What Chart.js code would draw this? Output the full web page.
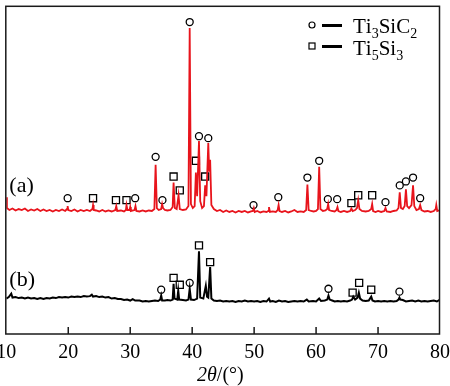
<!DOCTYPE html>
<html>
<head>
<meta charset="utf-8">
<script src="https://cdn.jsdelivr.net/npm/chart.js@4"></script>
<style>
  html, body { margin: 0; padding: 0; background: #fff; }
</style>
</head>
<body>
<canvas id="xrd" width="450" height="386"></canvas>
<script>
// 2theta (deg), intensity (arb. units)
const redPattern = [
  [10.0,139],[10.1,128],[10.5,126],[11.0,127.5],[11.5,125.5],[12.0,127],[12.5,126],[13.0,127.5],[13.5,125],[14.0,126.5],
  [14.5,125.5],[15.0,127],[15.5,125],[16.0,126.5],[16.5,125],[17.0,126],[17.5,124.5],[18.0,126],[18.5,125],[19.0,126.5],
  [19.5,125],[19.8,127],[19.9,130],[20.0,126],[20.5,125],[21.0,126.5],[21.5,124.5],[22.0,126],[22.5,125],[23.0,126],
  [23.5,125],[23.9,127],[24.0,131],[24.1,126],[24.5,125.5],[25.0,124.5],[25.5,126],[26.0,124.5],[26.5,125.5],[27.0,124.5],
  [27.6,126],[27.75,130],[27.9,125],[28.5,125.5],[29.0,124.5],[29.3,126],[29.4,131],[29.55,126],[29.9,126],[30.0,129],
  [30.1,125],[30.7,126],[30.85,130],[31.0,125],[31.5,124.5],[32.0,125.5],[32.5,124.5],[33.0,125.5],[33.5,125],[33.9,127],
  [34.1,172],[34.3,128],[34.6,126],[35.0,127],[35.15,132],[35.3,128],[35.6,126],[36.0,125.5],[36.5,126],[36.85,129],
  [37.0,154],[37.2,128],[37.5,127],[37.8,141],[38.0,127],[38.5,126],[39.0,126.5],[39.4,130],[39.6,311],[39.8,132],
  [40.1,128],[40.4,130],[40.6,164],[40.8,140],[41.1,196],[41.3,135],[41.6,128],[41.9,130],[42.1,151],[42.3,140],
  [42.6,194],[42.75,165],[42.9,177],[43.1,131],[43.5,127],[44.0,125],[44.5,126],[45.0,124],[45.5,125.5],[46.0,124],
  [46.5,125],[47.0,123.5],[47.5,125],[48.0,124],[48.5,125],[49.0,123.5],[49.5,124.5],[49.8,125],[49.95,128],[50.1,124],
  [50.5,125],[51.0,123.5],[51.5,124.5],[52.0,124],[52.3,125],[52.4,129],[52.55,124],[53.0,124.5],[53.5,124],[53.8,126],
  [53.95,131],[54.1,125],[54.5,124],[55.0,125],[55.5,123.5],[56.0,124.5],[56.5,126],[57.0,124],[57.5,124.5],[58.0,124],
  [58.4,126],[58.6,152],[58.8,126],[59.2,125],[59.6,124.5],[60.0,125],[60.3,127],[60.5,170],[60.7,127],[61.1,125],
  [61.5,125.5],[61.8,127],[61.95,132],[62.1,126],[62.5,125],[63.0,124.5],[63.3,126],[63.45,129],[63.6,125],[64.0,124],
  [64.5,125],[65.0,124],[65.5,125],[65.7,127.5],[65.9,125],[66.3,126],[66.6,128],[66.8,136],[67.0,127],[67.4,125],
  [68.0,124.5],[68.5,125],[68.9,127],[69.05,132],[69.2,125],[69.6,124],[70.0,125],[70.5,124],[71.0,125],[71.2,128],
  [71.4,124.5],[72.0,124],[72.5,125],[73.0,125.5],[73.3,128],[73.5,144],[73.7,128],[74.0,127],[74.3,130],[74.5,147],
  [74.7,130],[75.0,128],[75.4,131],[75.65,151],[75.85,130],[76.2,126],[76.6,127],[76.8,131],[77.0,126],[77.5,124.5],
  [78.0,125],[78.5,124],[79.0,125],[79.3,127],[79.4,131],[79.55,125],[80.0,126]
];

const blackPattern = [
  [10.0,36],[10.4,37.5],[10.8,41],[11.0,37],[11.5,37.5],[12.0,36.5],[12.5,37],[13.0,36],[13.5,37],[14.0,36],
  [14.5,36.5],[15.0,35.5],[15.5,36.5],[16.0,35.5],[16.5,36.5],[17.0,36],[17.5,37],[18.0,36.5],[18.5,37.5],[19.0,37],
  [19.5,37.5],[20.0,37],[20.5,38],[21.0,37.5],[21.5,38],[22.0,37.5],[22.5,38.5],[23.0,38],[23.5,38.5],[23.8,40],
  [24.0,38],[24.5,38.5],[25.0,37.5],[25.5,38],[26.0,37],[26.5,37.5],[27.0,36],[27.5,36.5],[28.0,35.5],[28.5,35.5],
  [29.0,34.5],[29.5,35],[30.0,34],[30.4,35.5],[30.8,34],[31.5,34],[32.0,33],[32.5,33.5],[33.0,33],[33.5,33.5],
  [34.0,34],[34.5,33.5],[34.85,35],[35.0,39],[35.15,34],[35.6,34],[36.0,34.5],[36.5,34],[36.85,35],[37.0,51],
  [37.15,36],[37.6,35],[37.75,44],[37.9,35],[38.5,34.5],[39.0,34],[39.4,35],[39.6,46],[39.8,35],[40.3,34.5],
  [40.8,36],[41.1,84],[41.3,37],[41.8,36],[42.2,49],[42.4,38],[42.6,37],[42.9,68],[43.1,36],[43.5,34],
  [44.0,33.5],[44.5,34],[45.0,33],[45.5,33.5],[46.0,33],[46.5,33.5],[47.0,32.5],[47.5,33.5],[48.0,33],[48.5,34],
  [49.0,33],[49.5,33.5],[50.0,33],[50.5,33.5],[51.0,32.5],[51.5,33.5],[52.0,33],[52.4,36],[52.6,33],[53.0,33.5],
  [53.5,32.5],[54.0,34],[54.5,33],[55.0,33.5],[55.5,32.5],[56.0,33],[56.5,33.5],[57.0,33],[57.5,33.5],[58.0,33],
  [58.5,35],[58.8,33],[59.5,33.5],[60.0,33],[60.5,36],[60.8,33.5],[61.4,34],[61.8,35],[62.0,39],[62.2,35],
  [62.6,34],[63.0,33],[63.5,33.5],[64.0,33],[64.5,33.5],[65.0,33],[65.5,34],[65.8,35],[66.0,38],[66.3,35],
  [66.7,37],[66.9,42],[67.1,36],[67.5,34],[68.0,33.5],[68.5,34],[68.9,38],[69.1,34],[69.5,33],[70.0,33.5],
  [70.5,33],[71.0,33.5],[71.5,33],[72.0,33.5],[72.5,33],[73.0,33.5],[73.3,35],[73.45,37],[73.6,35],[74.0,34.5],
  [74.5,33],[75.0,33.5],[75.5,34],[76.0,33],[76.5,34],[77.0,33],[77.5,33.5],[78.0,33],[78.5,33.5],[79.0,34],
  [79.5,33],[80.0,35]
];

// phase markers above the peaks: Ti3SiC2 (circle), Ti5Si3 (square)
const redCircles = [
  [19.9,138],[30.8,138],[34.1,180],[35.2,136],[39.6,317],[41.1,201],[42.6,199],[49.9,131],[53.9,139],
  [58.6,159],[60.5,176],[61.9,137],[63.4,137],[71.2,134],[73.5,151],[74.5,155],[75.65,159],[76.8,138]
];
const redSquares = [
  [24.0,138],[27.7,136],[29.4,136],[37.0,160],[38.0,146],[40.6,176],[42.1,160],[65.7,133],[66.8,141],[69.05,141]
];
const blackCircles = [[35.0,45],[39.6,52],[62.0,46],[73.45,43]];
const blackSquares = [[37.0,57],[38.0,50],[41.1,90],[42.9,73],[65.9,42],[66.95,52],[68.9,45]];

const xTicks = [10, 20, 30, 40, 50, 60, 70, 80];
const phaseNames = ['Ti_3SiC_2', 'Ti_5Si_3'];
const sampleNames = ['(a)', '(b)'];

const serif = "'Liberation Serif', 'Times New Roman', serif";
const toXY = arr => arr.map(p => ({ x: p[0], y: p[1] }));

// text with "_n" subscripts
function richText(ctx, s, x, y, size) {
  let i = 0;
  while (i < s.length) {
    if (s[i] === '_') {
      ctx.font = Math.round(size * 0.65) + 'px ' + serif;
      ctx.fillText(s[i + 1], x, y + size * 0.22);
      x += ctx.measureText(s[i + 1]).width;
      i += 2;
    } else {
      ctx.font = size + 'px ' + serif;
      ctx.fillText(s[i], x, y);
      x += ctx.measureText(s[i]).width;
      i++;
    }
  }
}

const decor = {
  id: 'decor',
  afterDraw(chart) {
    const { ctx, chartArea: a, scales: { x } } = chart;
    ctx.save();
    ctx.strokeStyle = '#1a1a1a';
    ctx.lineWidth = 1.5;
    ctx.strokeRect(a.left - 0.5, a.top, a.right - a.left, a.bottom - a.top);
    ctx.beginPath();
    xTicks.slice(1, -1).forEach(v => {
      const px = x.getPixelForValue(v);
      ctx.moveTo(px, a.bottom);
      ctx.lineTo(px, a.bottom - 7);
    });
    ctx.stroke();

    ctx.fillStyle = '#000';
    ctx.textBaseline = 'alphabetic';
    // axis title 2θ/(°)
    ctx.font = 'italic 20px ' + serif;
    let tx = 197, ty = 381;
    ctx.fillText('2θ', tx, ty);
    tx += ctx.measureText('2θ').width;
    ctx.font = '20px ' + serif;
    ctx.fillText('/(°)', tx, ty);

    // sample labels
    ctx.font = '22px ' + serif;
    ctx.fillText(sampleNames[0], a.left + 3, 192);
    ctx.fillText(sampleNames[1], a.left + 3, 286);

    // legend
    ctx.strokeStyle = '#000';
    ctx.lineWidth = 1.2;
    ctx.beginPath();
    ctx.arc(312, 25, 3, 0, Math.PI * 2);
    ctx.stroke();
    ctx.strokeRect(309, 43, 6, 6);
    ctx.lineWidth = 3;
    ctx.beginPath();
    ctx.moveTo(322, 25.5); ctx.lineTo(342, 25.5);
    ctx.moveTo(322, 46.5); ctx.lineTo(342, 46.5);
    ctx.stroke();
    richText(ctx, phaseNames[0], 353, 33, 21);
    richText(ctx, phaseNames[1], 353, 55, 21);
    ctx.restore();
  }
};

const marker = (data, style) => ({
  type: 'scatter',
  data: toXY(data),
  pointStyle: style,
  pointRadius: style === 'rect' ? 5 : 3.5,
  borderColor: '#000',
  backgroundColor: '#fff',
  borderWidth: 1.3,
  showLine: false
});

new Chart(document.getElementById('xrd'), {
  type: 'line',
  data: {
    datasets: [
      { data: toXY(redPattern), borderColor: '#e8141c', borderWidth: 1.8, pointRadius: 0, tension: 0 },
      { data: toXY(blackPattern), borderColor: '#000', borderWidth: 2, pointRadius: 0, tension: 0 },
      marker(redCircles, 'circle'),
      marker(redSquares, 'rect'),
      marker(blackCircles, 'circle'),
      marker(blackSquares, 'rect')
    ]
  },
  options: {
    responsive: false,
    animation: false,
    layout: { padding: { left: 5, right: 10, top: 1, bottom: 0 } },
    plugins: { legend: { display: false }, tooltip: { enabled: false } },
    scales: {
      x: {
        type: 'linear',
        min: 10,
        max: 80,
        afterBuildTicks: s => { s.ticks = xTicks.map(v => ({ value: v })); },
        afterFit: s => { s.height = 52; s.paddingLeft = 0; s.paddingRight = 0; },
        grid: { display: false, drawTicks: false },
        border: { display: false },
        ticks: { color: '#000', padding: 7, maxRotation: 0, autoSkip: false, font: { family: serif, size: 20 } }
      },
      y: { display: false, min: 0, max: 333 }
    }
  },
  plugins: [decor]
});
</script>
</body>
</html>
